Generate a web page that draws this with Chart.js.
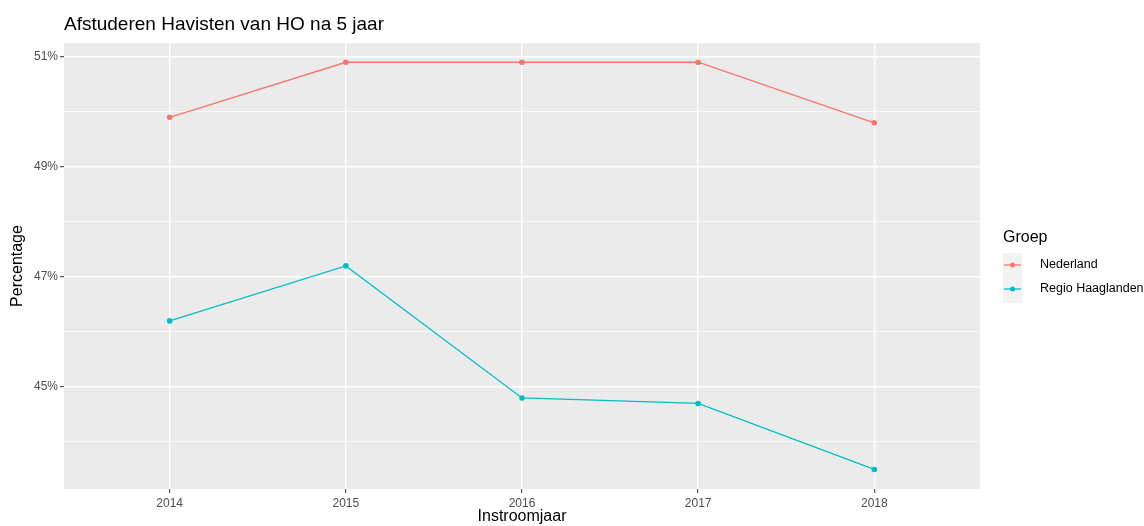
<!DOCTYPE html>
<html>
<head>
<meta charset="utf-8">
<script src="https://cdn.jsdelivr.net/npm/chart.js@4"></script>
<style>
  html, body { margin: 0; padding: 0; background: #fff; }
  #wrap { width: 1144px; height: 526px; }
</style>
</head>
<body>
<div id="wrap"><canvas id="grafiek" width="1144" height="526"></canvas></div>
<script>
// gegevens
const jaren = [2014, 2015, 2016, 2017, 2018];
const nederland = [49.9, 50.9, 50.9, 50.9, 49.8];
const regioHaaglanden = [46.2, 47.2, 44.8, 44.7, 43.5];
const yTicks = [44, 45, 46, 47, 48, 49, 50, 51];
const yLabels = [45, 47, 49, 51];
const groepen = ['Nederland', 'Regio Haaglanden'];
const kleuren = ['#F8766D', '#00BFC4'];

const FONT = '"Liberation Sans", Arial, sans-serif';

// grijs paneel + titel + legenda
const ggPlugin = {
  id: 'ggPlugin',
  beforeDraw(chart) {
    const { ctx, chartArea: a } = chart;
    ctx.save();
    ctx.fillStyle = '#EBEBEB';
    ctx.fillRect(a.left, a.top, a.right - a.left, a.bottom - a.top);
    ctx.restore();
  },
  afterDraw(chart) {
    const { ctx } = chart;
    ctx.save();
    ctx.fillStyle = '#000';
    ctx.font = '19px ' + FONT;
    ctx.textBaseline = 'middle';
    ctx.textAlign = 'left';
    ctx.fillText('Afstuderen Havisten van HO na 5 jaar', 64, 25);

    // legenda
    ctx.font = '16px ' + FONT;
    ctx.fillText('Groep', 1003, 238);
    ctx.fillStyle = '#F2F2F2';
    ctx.fillRect(1003, 253, 19, 50);
    groepen.forEach((g, i) => {
      const y = 265 + i * 24;
      ctx.strokeStyle = kleuren[i];
      ctx.lineWidth = 1.3;
      ctx.beginPath();
      ctx.moveTo(1004, y);
      ctx.lineTo(1021, y);
      ctx.stroke();
      ctx.fillStyle = kleuren[i];
      ctx.beginPath();
      ctx.arc(1012.5, y, 2.5, 0, Math.PI * 2);
      ctx.fill();
      ctx.fillStyle = '#000';
      ctx.font = '12.5px ' + FONT;
      ctx.fillText(g, 1040, y);
    });
    ctx.restore();
  }
};

const maakPunten = reeks => jaren.map((j, i) => ({ x: j, y: reeks[i] }));

new Chart(document.getElementById('grafiek').getContext('2d'), {
  type: 'line',
  data: {
    datasets: [
      {
        label: groepen[0],
        data: maakPunten(nederland),
        borderColor: kleuren[0],
        backgroundColor: kleuren[0],
        borderWidth: 1.3,
        pointRadius: 2.8,
        pointBorderWidth: 0,
        tension: 0
      },
      {
        label: groepen[1],
        data: maakPunten(regioHaaglanden),
        borderColor: kleuren[1],
        backgroundColor: kleuren[1],
        borderWidth: 1.3,
        pointRadius: 2.8,
        pointBorderWidth: 0,
        tension: 0
      }
    ]
  },
  options: {
    responsive: false,
    animation: false,
    layout: { padding: { left: 0, top: 43, right: 164, bottom: 0 } },
    plugins: {
      legend: { display: false },
      title: { display: false },
      tooltip: { enabled: false }
    },
    scales: {
      x: {
        type: 'linear',
        min: 2013.4,
        max: 2018.6,
        afterBuildTicks: s => { s.ticks = jaren.map(v => ({ value: v })); },
        afterFit: s => { s.height = 37; },
        border: { display: false },
        grid: {
          color: '#FFFFFF',
          lineWidth: 1.4,
          tickColor: '#333333',
          tickLength: 4,
          tickWidth: 1
        },
        ticks: {
          color: '#4D4D4D',
          font: { family: FONT, size: 12 },
          padding: 3,
          maxRotation: 0,
          callback: v => String(v)
        },
        title: {
          display: true,
          text: 'Instroomjaar',
          color: '#000',
          font: { family: FONT, size: 16 },
          padding: { top: 0, bottom: 0 }
        }
      },
      y: {
        min: 43.145,
        max: 51.25,
        afterBuildTicks: s => { s.ticks = yTicks.map(v => ({ value: v })); },
        afterFit: s => { s.width = 64; },
        border: { display: false },
        grid: {
          color: '#FFFFFF',
          lineWidth: c => yLabels.includes(c.tick.value) ? 1.4 : 0.7,
          tickColor: c => yLabels.includes(c.tick.value) ? '#333333' : 'rgba(0,0,0,0)',
          tickLength: 4,
          tickWidth: 1
        },
        ticks: {
          color: '#4D4D4D',
          font: { family: FONT, size: 12 },
          padding: 2,
          callback: v => yLabels.includes(v) ? v + '%' : ''
        },
        title: {
          display: true,
          text: 'Percentage',
          color: '#000',
          font: { family: FONT, size: 16 },
          padding: { top: 8, bottom: 6 }
        }
      }
    }
  },
  plugins: [ggPlugin]
});
</script>
</body>
</html>
